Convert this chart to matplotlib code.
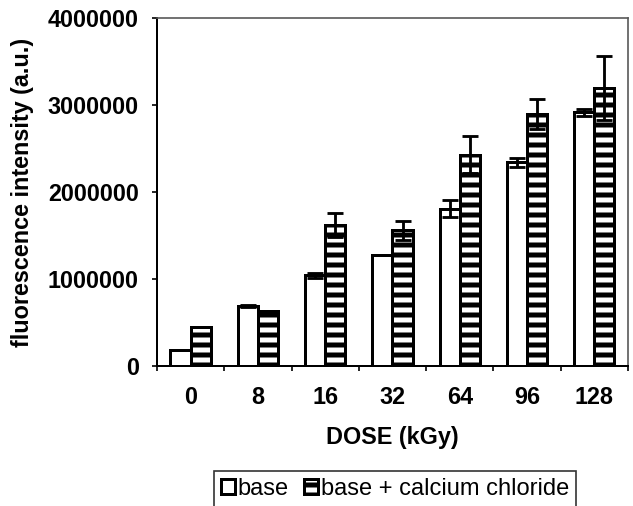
import matplotlib.pyplot as plt
import numpy as np

doses = ['0', '8', '16', '32', '64', '96', '128']
base = [180000, 690000, 1040000, 1270000, 1810000, 2340000, 2920000]
base_err = [0, 15000, 30000, 0, 100000, 50000, 40000]
cacl = [450000, 630000, 1620000, 1560000, 2430000, 2900000, 3200000]
cacl_err = [0, 0, 140000, 110000, 210000, 170000, 370000]

DPI = 120

plt.rcParams['font.family'] = ['Liberation Sans', 'DejaVu Sans']
plt.rcParams['hatch.linewidth'] = 3.0

fig = plt.figure(figsize=(633 / DPI, 506 / DPI), dpi=DPI)
ax = fig.add_axes([0.248, 0.277, 0.744, 0.687])

x = np.arange(len(doses))
w = 0.3
err_kw = dict(ecolor='black', elinewidth=1.7, capsize=5, capthick=1.7)
b1 = ax.bar(x - w / 2, base, w, yerr=base_err, color='white', edgecolor='black',
            linewidth=1.8, error_kw=err_kw, label='base')
b2 = ax.bar(x + w / 2, cacl, w, yerr=cacl_err, color='white', edgecolor='black',
            hatch='--', linewidth=1.8, error_kw=err_kw, label='base + calcium chloride')

ax.set_xlim(-0.5, len(doses) - 0.5)
ax.set_ylim(0, 4000000)
ax.set_yticks([0, 1000000, 2000000, 3000000, 4000000])
ax.set_yticklabels(['0', '1000000', '2000000', '3000000', '4000000'],
                   fontsize=14, fontweight='bold')
ax.set_xticks(x)
ax.set_xticklabels(doses, fontsize=14, fontweight='bold')
ax.set_xticks(np.arange(len(doses) + 1) - 0.5, minor=True)
ax.tick_params(axis='x', which='major', length=0, pad=12)
ax.tick_params(axis='x', which='minor', length=3, width=1, direction='out')
ax.tick_params(axis='y', length=3, width=1, direction='out', pad=8)

for s in ['top', 'right']:
    ax.spines[s].set_color('0.35')
    ax.spines[s].set_linewidth(1)
for s in ['left', 'bottom']:
    ax.spines[s].set_linewidth(1.2)

ax.set_xlabel('DOSE (kGy)', fontsize=14, fontweight='bold', labelpad=10)
ax.set_ylabel('fluorescence intensity (a.u.)', fontsize=14, fontweight='bold', labelpad=8)

leg = fig.legend(handles=[b1, b2], loc='center', bbox_to_anchor=(395 / 633, 1 - 489 / 506),
                 ncol=2, fontsize=14.2, frameon=True, fancybox=False, handlelength=0.6,
                 handleheight=0.6, handletextpad=0.1, columnspacing=0.65, borderpad=0.3,
                 borderaxespad=0)
leg.get_frame().set_edgecolor('black')
leg.get_frame().set_linewidth(1)

fig.savefig('out.png', dpi=DPI)
